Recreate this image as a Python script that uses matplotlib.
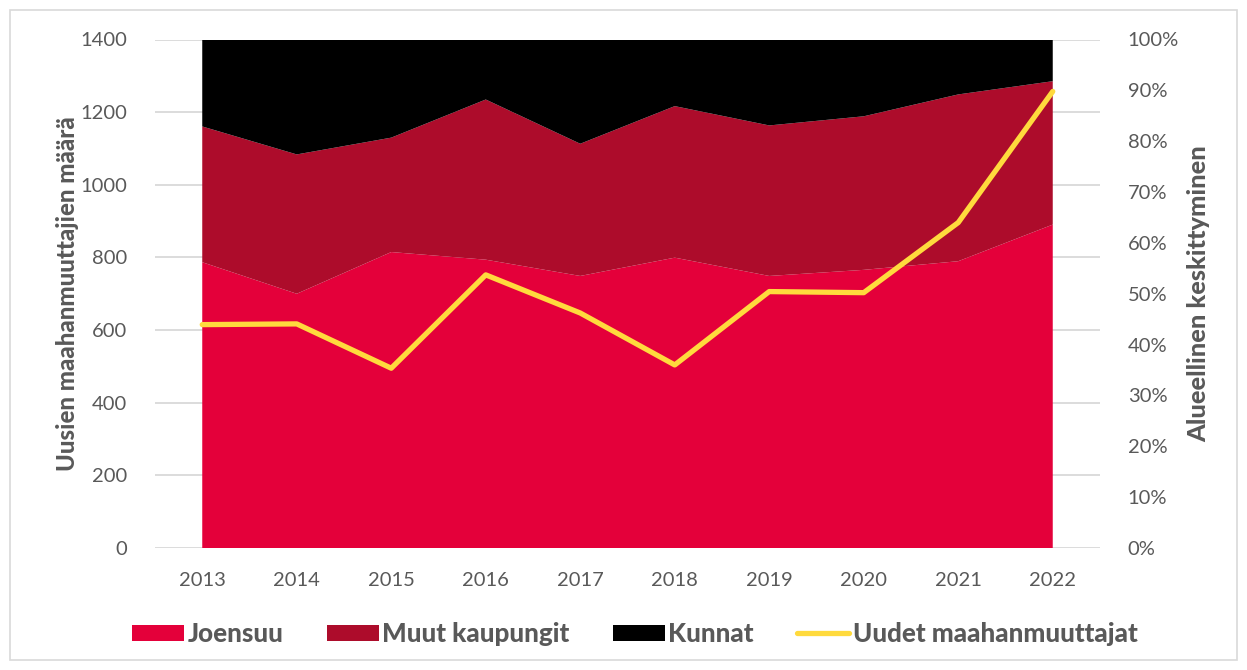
import matplotlib
matplotlib.use("Agg")
import matplotlib.pyplot as plt
from matplotlib.patches import Patch
from matplotlib.lines import Line2D

years = [2013, 2014, 2015, 2016, 2017, 2018, 2019, 2020, 2021, 2022]
# regional concentration shares (%), stacked to 100
joensuu = [56.2, 50.0, 58.2, 56.7, 53.5, 57.1, 53.5, 54.7, 56.4, 63.6]
muut_kaupungit = [26.7, 27.4, 22.5, 31.5, 26.0, 29.8, 29.6, 30.2, 32.8, 28.2]
kunnat = [17.1, 22.6, 19.3, 11.8, 20.5, 13.1, 16.9, 15.1, 10.8, 8.2]
# number of new immigrants
uudet = [615, 617, 495, 752, 647, 504, 706, 703, 896, 1257]

left_ticks = [0, 200, 400, 600, 800, 1000, 1200, 1400]
right_ticks = [0, 10, 20, 30, 40, 50, 60, 70, 80, 90, 100]

c_joensuu = "#E4003A"
c_muut = "#AD0C2B"
c_kunnat = "#000000"
c_line = "#FFDA3D"
c_text = "#595959"
c_grid = "#D9D9D9"

plt.rcParams["font.family"] = ["Lato", "DejaVu Sans"]

fig = plt.figure(figsize=(12.47, 6.70), dpi=100)
fig.patches.append(plt.Rectangle((10 / 1247, 10 / 670), 1 - 20 / 1247, 1 - 20 / 670,
                                 transform=fig.transFigure, fill=False,
                                 edgecolor="#D9D9D9", linewidth=1.2))

pos = [155 / 1247, 1 - 548 / 670, (1100 - 155) / 1247, (548 - 39.5) / 670]
ax = fig.add_axes(pos)          # counts axis (left), gridlines
ax2 = ax.twinx()                # percent axis (right), stacked areas
ax3 = ax.twinx()                # line, same scale as counts

ax.set_xlim(2012.5, 2022.5)
ax.set_ylim(0, 1400)
ax.set_yticks(left_ticks)
ax.grid(axis="y", color=c_grid, linewidth=1.3)
ax.set_axisbelow(True)

ax2.set_ylim(0, 100)
ax2.set_yticks(right_ticks)
ax2.set_yticklabels([f"{t}%" for t in right_ticks])
ax2.stackplot(years, joensuu, muut_kaupungit, kunnat,
              colors=[c_joensuu, c_muut, c_kunnat], linewidth=0)

ax3.set_ylim(0, 1400)
ax3.plot(years, uudet, color=c_line, linewidth=3.8, solid_capstyle="round",
         solid_joinstyle="round")
ax3.set_yticks([])

ax.set_xticks(years)
ax.set_xticklabels([str(y) for y in years])

for a in (ax, ax2, ax3):
    for s in a.spines.values():
        s.set_visible(False)
    a.tick_params(length=0, colors=c_text, labelsize=14.5)

ax.tick_params(axis="y", pad=20)
ax.tick_params(axis="x", pad=17)
ax2.tick_params(axis="y", pad=20)

ax.set_ylabel("Uusien maahanmuuttajien määrä", fontsize=17.3, fontweight=900,
              color=c_text, labelpad=1)
ax2.set_ylabel("Alueellinen keskittyminen", fontsize=18.3, fontweight=900,
               color=c_text, labelpad=6)

handles = [Patch(facecolor=c_joensuu, edgecolor="none"),
           Patch(facecolor=c_muut, edgecolor="none"),
           Patch(facecolor=c_kunnat, edgecolor="none"),
           Line2D([0], [0], color=c_line, linewidth=3.8, solid_capstyle="round")]
labels = ["Joensuu", "Muut kaupungit", "Kunnat", "Uudet maahanmuuttajat"]
leg = fig.legend(handles, labels, loc="center", bbox_to_anchor=(0.509, 1 - 634 / 670),
                 ncol=4, frameon=False, handlelength=2.0, handleheight=0.6,
                 handletextpad=0.15, columnspacing=1.65,
                 prop={"size": 18.7, "weight": 900})
for t in leg.get_texts():
    t.set_color(c_text)

fig.savefig("out.png", dpi=100)
